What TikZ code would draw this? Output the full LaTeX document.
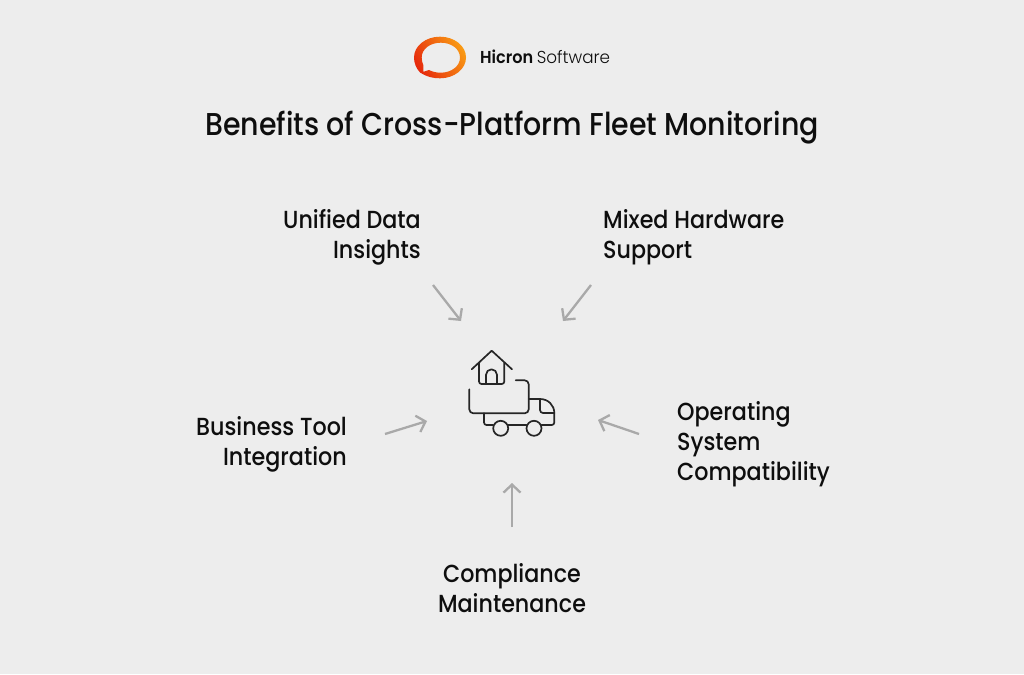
\documentclass[tikz,border=0pt]{standalone}
\usepackage{fontspec}
\setmainfont{Poppins}[UprightFont=* Medium, FakeStretch=0.9]
\newfontfamily\lightf{Poppins}[UprightFont=* Light, FakeStretch=0.97]
\newfontfamily\boldf{Poppins}[UprightFont=* SemiBold, FakeStretch=0.93]
\definecolor{bgc}{HTML}{EDEDED}
\definecolor{ink}{HTML}{0E0E0E}
\definecolor{arr}{HTML}{A9A9A9}
\definecolor{logoR}{HTML}{E62A0C}
\definecolor{logoO}{HTML}{F99A14}
\usetikzlibrary{arrows.meta}
\tikzset{
  lbl/.style={font=\fontsize{24.7}{30}\selectfont, text=ink, inner sep=0pt, text depth=0pt},
  bigarrow/.style={draw=arr, line width=2.3pt, -{Straight Barb[length=8pt,width=17pt,line width=2.3pt]}},
  icon/.style={draw=ink!90, line width=1.7pt, line cap=round, line join=round, rounded corners=2.5pt},
}
\begin{document}
\begin{tikzpicture}[x=1pt,y=-1pt]
\useasboundingbox[fill=bgc] (0,0) rectangle (1024,674);
% logo
\path[even odd rule, shading=axis, left color=logoR, right color=logoO, shading angle=120]
  (440,36.7) .. controls (454.5,36.7) and (466,46) .. (466,57.5)
  .. controls (466,69) and (454.5,78.3) .. (440,78.3)
  .. controls (433,78.3) and (428,76.8) .. (423.5,74.5) -- (420,72.5)
  .. controls (416,68) and (414,63) .. (414,57.5)
  .. controls (414,46) and (425.5,36.7) .. (440,36.7) -- cycle
  (440.8,42.7) .. controls (430,42.7) and (421.7,49) .. (421.7,57.5)
  .. controls (421.7,60.5) and (422.3,62.8) .. (423.3,65) -- (423.5,71.8) -- (429,70)
  .. controls (432.5,71.8) and (436.5,72.7) .. (440.8,72.7)
  .. controls (451.5,72.7) and (460,66) .. (460,57.7)
  .. controls (460,49) and (451.5,42.7) .. (440.8,42.7) -- cycle;
\node[font=\fontsize{17.3}{17}\selectfont, text=ink, inner sep=0pt, anchor=base west] (brand) at (480,64) {\boldf Hicron\kern3.5pt{\lightf Software}};
\node[font=\fontsize{31.6}{30}\selectfont, text=ink, inner sep=0pt, anchor=base] (title) at (512,135.5) {Benefits of Cross-Platform Fleet Monitoring};
% labels
\node[lbl, align=right, anchor=south east] (a) at (421,258.5) {Unified Data\\Insights};
\node[lbl, align=left, anchor=south west] (b) at (603,258.5) {Mixed Hardware\\Support};
\node[lbl, align=right, anchor=south east] (c) at (347,465.5) {Business Tool\\Integration};
\node[lbl, align=left, anchor=south west] (d) at (677,480.5) {Operating\\System\\Compatibility};
\node[lbl, align=center, anchor=south] (e) at (512,612.5) {Compliance\\Maintenance};
% arrows
\coordinate (a1) at (433,285); \coordinate (a2) at (461,321);
\coordinate (b1) at (591,285); \coordinate (b2) at (563,321);
\coordinate (c1) at (385,434); \coordinate (c2) at (427,421);
\coordinate (d1) at (639,434); \coordinate (d2) at (598,420);
\coordinate (e1) at (512,527); \coordinate (e2) at (512,483);
\draw[bigarrow] (a1) -- (a2);
\draw[bigarrow] (b1) -- (b2);
\draw[bigarrow] (c1) -- (c2);
\draw[bigarrow] (d1) -- (d2);
\draw[bigarrow] (e1) -- (e2);
% icon
\draw[icon, rounded corners=0pt] (471.7,369.3) -- (491.7,350.7) -- (512,369.3);
\draw[icon] (479,362.7) -- (479,384) -- (504.3,384) -- (504.3,362.7);
\draw[icon, rounded corners=0pt] (486,384) -- (486,374.8) arc[start angle=180,end angle=360,radius=5.5] -- (497,384);
\draw[icon, rounded corners=4pt] (515.7,380.3) -- (528.7,380.3) -- (528.7,413.3) -- (469.3,413.3) -- (469.3,389.3);
\draw[icon, rounded corners=0pt] (528.7,399) -- (540,399) .. controls (548,399) and (554.3,405) .. (554.3,413);
\draw[icon, rounded corners=3pt] (540,399) -- (540,413) -- (554.3,413);
\draw[icon] (554.3,413) -- (554.3,425) -- (541.5,425);
\draw[icon] (526.5,425) -- (508.2,425);
\draw[icon] (484,413.3) -- (484,425) -- (493.2,425);
\draw[icon] (500.7,428.3) circle[radius=7.5];
\draw[icon] (534,428.3) circle[radius=7.5];
\end{tikzpicture}
\end{document}
